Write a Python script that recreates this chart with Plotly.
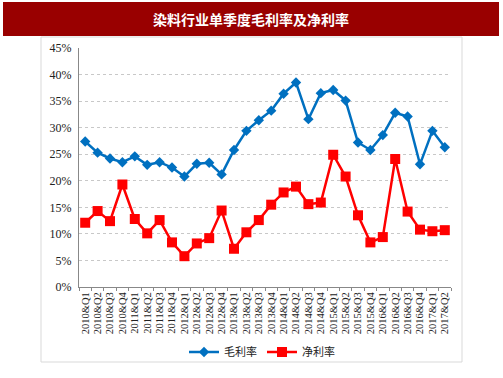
import plotly.graph_objects as go

categories = [
    "2010&Q1", "2010&Q2", "2010&Q3", "2010&Q4",
    "2011&Q1", "2011&Q2", "2011&Q3", "2011&Q4",
    "2012&Q1", "2012&Q2", "2012&Q3", "2012&Q4",
    "2013&Q1", "2013&Q2", "2013&Q3", "2013&Q4",
    "2014&Q1", "2014&Q2", "2014&Q3", "2014&Q4",
    "2015&Q1", "2015&Q2", "2015&Q3", "2015&Q4",
    "2016&Q1", "2016&Q2", "2016&Q3", "2016&Q4",
    "2017&Q1", "2017&Q2",
]
gross_margin = [
    27.4, 25.3, 24.2, 23.5, 24.6, 23.0, 23.5, 22.5, 20.8, 23.2,
    23.4, 21.2, 25.8, 29.4, 31.4, 33.2, 36.4, 38.5, 31.6, 36.5,
    37.1, 35.1, 27.2, 25.8, 28.6, 32.8, 32.1, 23.1, 29.4, 26.3,
]
net_margin = [
    12.1, 14.3, 12.4, 19.3, 12.8, 10.1, 12.6, 8.4, 5.8, 8.2,
    9.2, 14.4, 7.2, 10.3, 12.6, 15.5, 17.8, 18.9, 15.6, 15.9,
    24.9, 20.8, 13.5, 8.4, 9.4, 24.1, 14.2, 10.8, 10.5, 10.7,
]
series_names = ["毛利率", "净利率"]
title_text = "染料行业单季度毛利率及净利率"

W, H = 503, 378
L, R, T, B = 79, 451, 48, 287


def px(x):
    return (x - L) / (R - L)


def py(y):
    return (B - y) / (B - T)


fig = go.Figure()
fig.add_trace(go.Scatter(
    x=categories, y=gross_margin, name=series_names[0], mode="lines+markers",
    line=dict(color="#0070C0", width=2.5),
    marker=dict(symbol="diamond", size=8, color="#0070C0"),
))
fig.add_trace(go.Scatter(
    x=categories, y=net_margin, name=series_names[1], mode="lines+markers",
    line=dict(color="#FF0000", width=2.5),
    marker=dict(symbol="square", size=10, color="#FF0000"),
))

fig.update_layout(
    width=W, height=H,
    margin=dict(l=L, r=W - R, t=T, b=H - B, pad=0, autoexpand=False),
    paper_bgcolor="white", plot_bgcolor="white",
    showlegend=True,
    legend=dict(
        orientation="h", x=px(262), y=py(352), xanchor="center", yanchor="middle",
        font=dict(family="Noto Sans CJK SC", size=11, color="#222"),
        itemwidth=30, tracegroupgap=0, bgcolor="rgba(0,0,0,0)",
    ),
    shapes=[
        dict(type="rect", xref="paper", yref="paper",
             x0=px(41), x1=px(462), y0=py(362), y1=py(37),
             line=dict(color="#d9d9d9", width=1), fillcolor="rgba(0,0,0,0)", layer="below"),
        dict(type="rect", xref="paper", yref="paper",
             x0=px(3), x1=px(499), y0=py(36), y1=py(2),
             line=dict(width=0), fillcolor="#990000", layer="above"),
    ],
    annotations=[
        dict(text="<b>" + title_text + "</b>", xref="paper", yref="paper",
             x=px(251), y=py(19), xanchor="center", yanchor="middle",
             showarrow=False, font=dict(family="Noto Sans CJK SC", size=14, color="white")),
    ],
)

fig.update_xaxes(
    type="category", tickangle=-90, tickson="boundaries", automargin=False,
    range=[-0.5, len(categories) - 0.5],
    tickmode="array", tickvals=categories, ticktext=categories,
    ticks="outside", ticklen=3, tickcolor="#888",
    showline=True, linecolor="#888", linewidth=1,
    showgrid=False,
    tickfont=dict(family="Liberation Serif", size=10.5, color="#222"),
)
fig.update_yaxes(
    range=[0, 45], dtick=5, ticksuffix="%", automargin=False,
    showline=True, linecolor="#888", linewidth=1,
    showgrid=True, gridcolor="#c8c8c8", griddash="dot", gridwidth=1,
    zeroline=False, ticks="", ticklabelstandoff=4,
    tickfont=dict(family="Liberation Serif", size=12, color="#222"),
)

fig.write_html("out.html", config={"displayModeBar": False},
               post_script="document.body.style.margin='0';")
